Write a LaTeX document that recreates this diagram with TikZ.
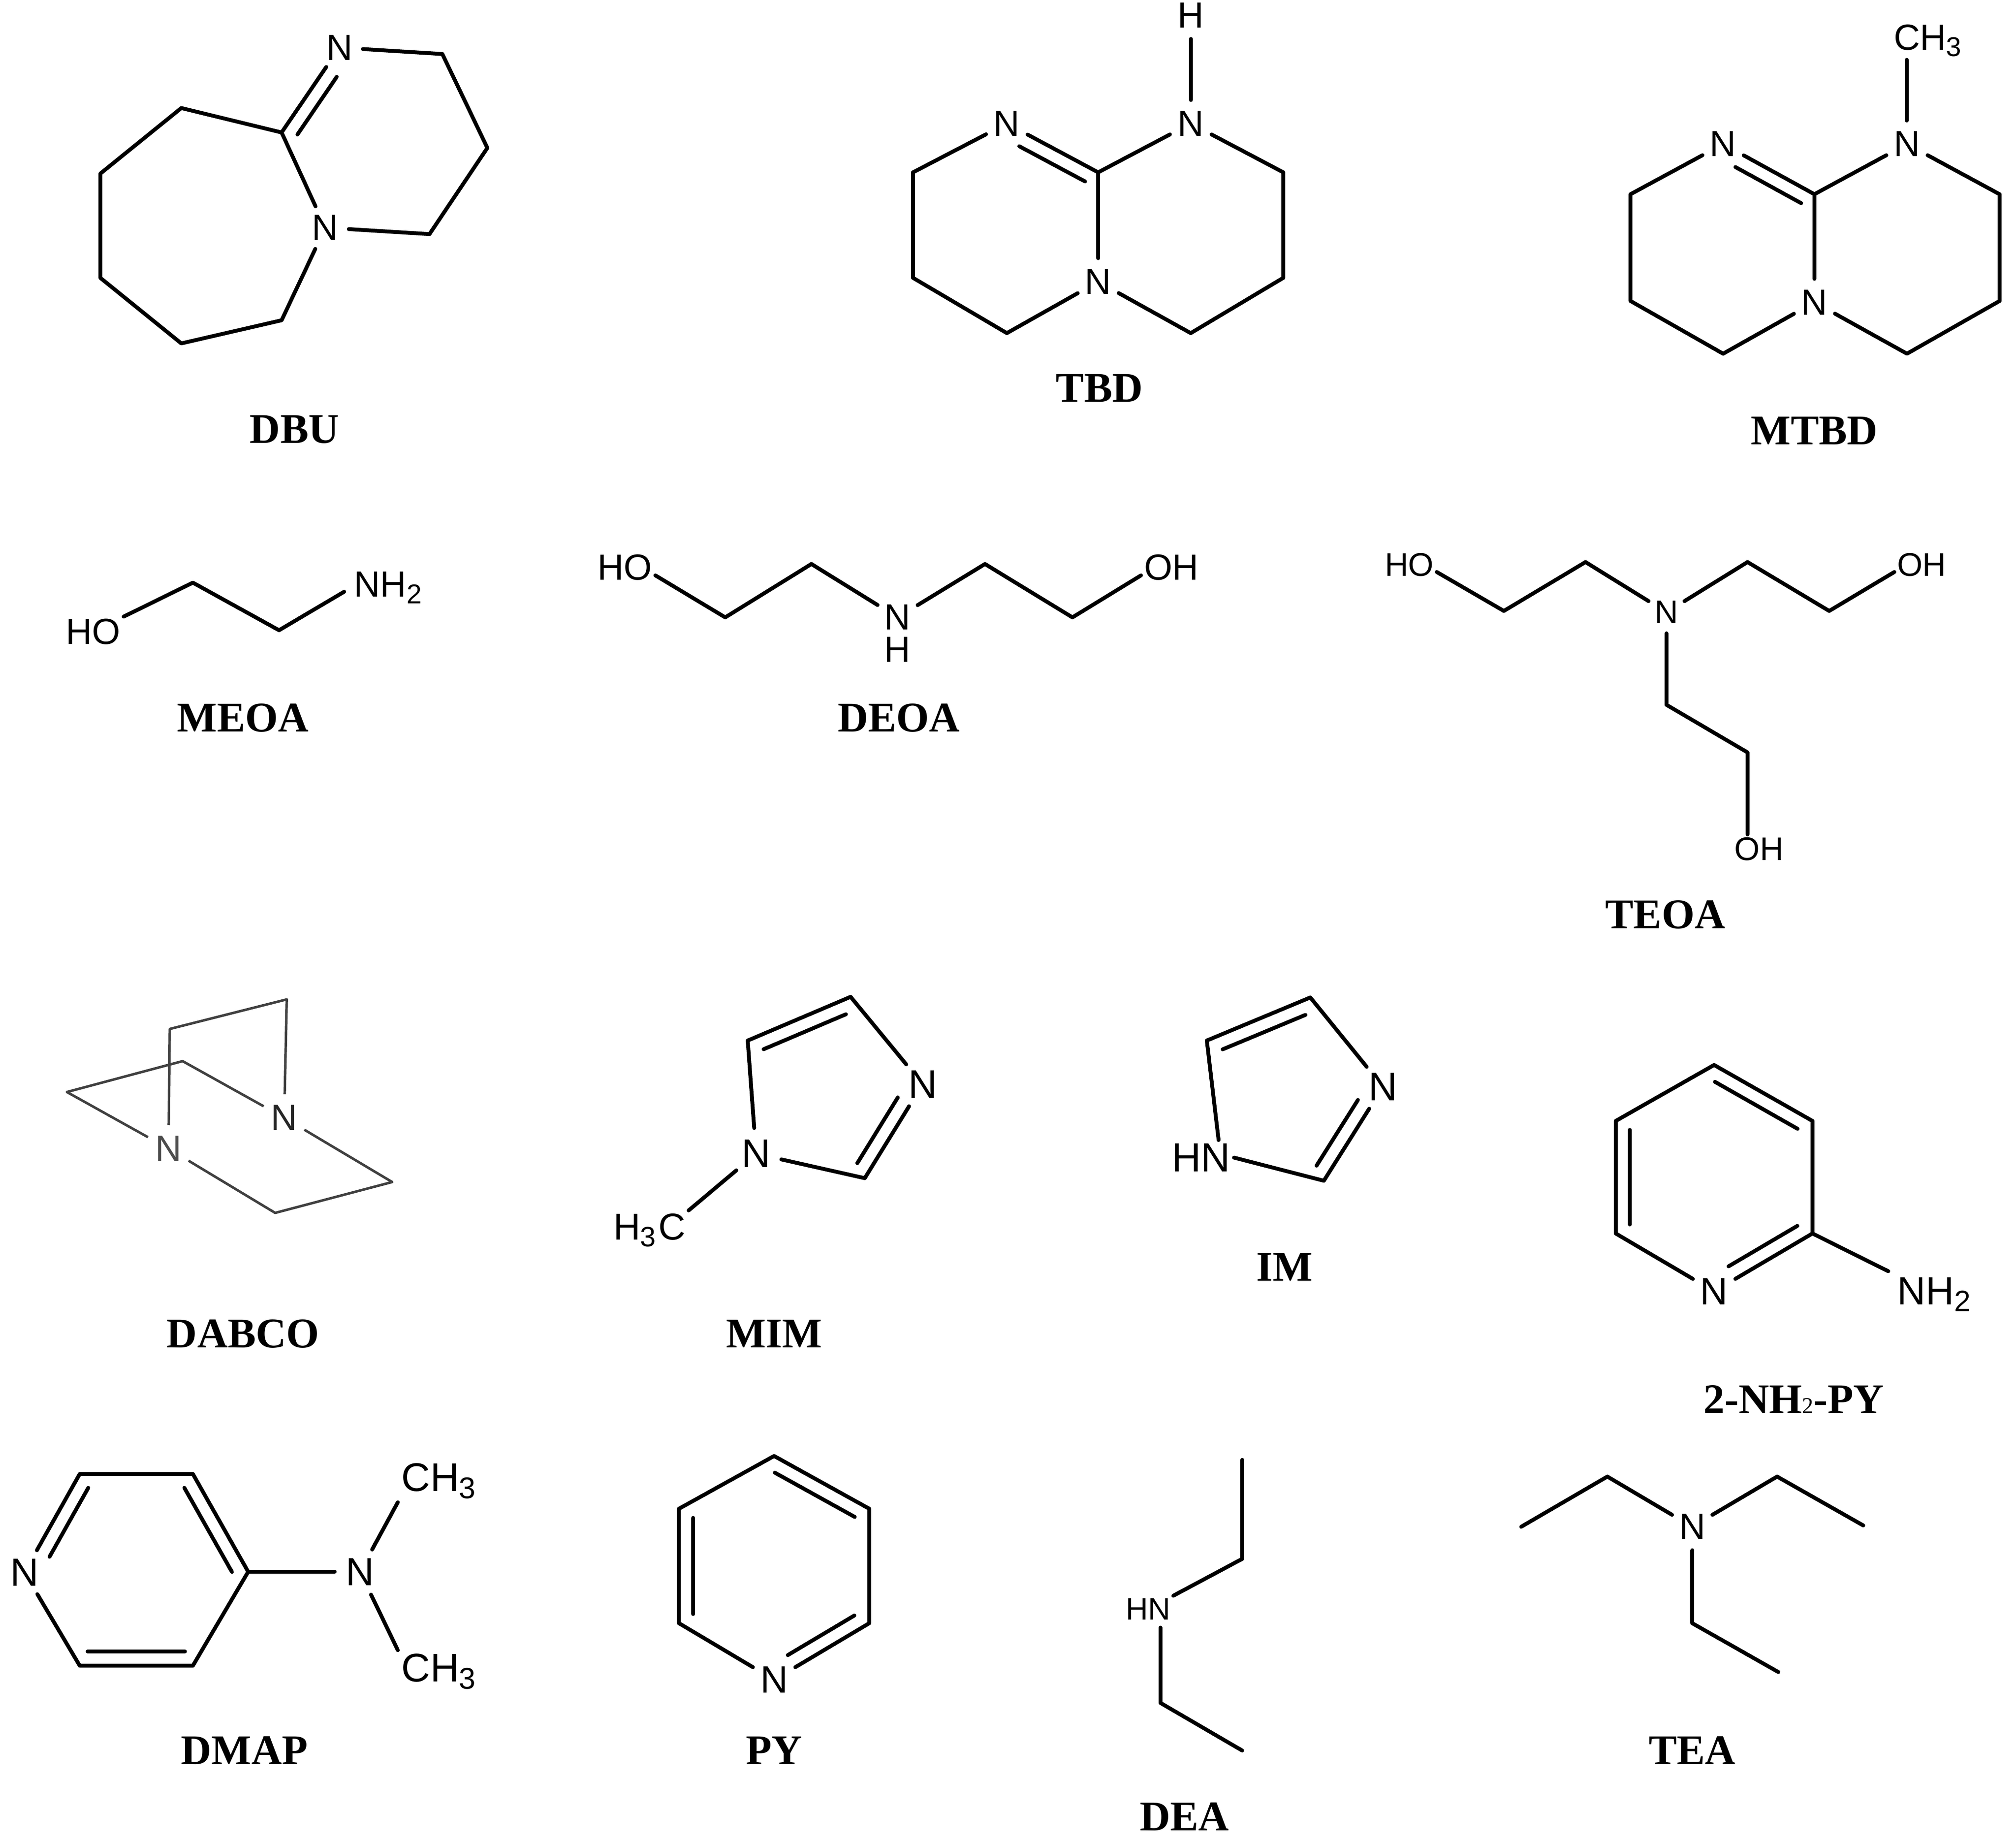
\documentclass[tikz,border=0pt]{standalone}
\usepackage{fontspec}
\setmainfont{Liberation Serif}
\newfontfamily\atomfont{Liberation Sans}
\usepackage{tikz}
\usetikzlibrary{positioning, calc}
\tikzset{
    atom/.style={
        circle,
        inner sep=0.7pt,
        font=\atomfont\fontsize{8}{9}\selectfont,
    },
    atomgroup/.style={
        inner sep=0.5pt,
        font=\atomfont\fontsize{8}{9}\selectfont,
    },
    molname/.style={
        inner sep=0pt,
        font=\bfseries\fontsize{9.3}{11}\selectfont,
    },
    bond/.style={
        line width=0.85pt,
        line cap=round,
        line join=round,
    },
    thinbond/.style={
        line width=0.55pt,
        draw=black!75,
        line join=round,
    },
}
\newcommand{\dbond}[4]{\draw[bond] ($(#1)!#3!(#2)!0.11cm!90:(#2)$) -- ($(#2)!#4!(#1)!0.11cm!-90:(#1)$);}

\begin{document}
\begin{tikzpicture}[x=0.00995cm,y=-0.00995cm]
      \useasboundingbox (0,0) rectangle (1567.8,1431.2);

      \node [atom] (DBUa) at (264,37) {N};
      \node [atom] (DBUb) at (253,177) {N};
      \coordinate (DBUc) at (344,42);
      \coordinate (DBUd) at (379,115);
      \coordinate (DBUe) at (334,182);
      \coordinate (DBUf) at (219,103);
      \coordinate (DBUg) at (141,84);
      \coordinate (DBUh) at (78,135);
      \coordinate (DBUi) at (78,216);
      \coordinate (DBUj) at (141,267);
      \coordinate (DBUk) at (219,249);
      \draw[bond] (DBUa) -- (DBUc) -- (DBUd) -- (DBUe) -- (DBUb);
      \draw[bond] (DBUa) -- (DBUf) -- (DBUb);
      \draw[bond] (DBUf) -- (DBUg) -- (DBUh) -- (DBUi) -- (DBUj) -- (DBUk) -- (DBUb);
      \dbond{DBUa}{DBUf}{0.25}{0.07}
      \node [molname] (DBU) at (229,334) {DBU};

      \node [atom] (TBDa) at (783,96) {N};
      \node [atom] (TBDb) at (926,96) {N};
      \node [atom] (TBDc) at (926,12) {H};
      \node [atom] (TBDd) at (854,219) {N};
      \coordinate (TBDe) at (854,134);
      \coordinate (TBDf) at (998,134);
      \coordinate (TBDg) at (998,216);
      \coordinate (TBDh) at (926,259);
      \coordinate (TBDi) at (783,259);
      \coordinate (TBDj) at (710,216);
      \coordinate (TBDk) at (710,134);
      \draw[bond] (TBDc) -- (TBDb);
      \draw[bond] (TBDa) -- (TBDe) -- (TBDb);
      \draw[bond] (TBDb) -- (TBDf) -- (TBDg) -- (TBDh) -- (TBDd);
      \draw[bond] (TBDe) -- (TBDd);
      \draw[bond] (TBDd) -- (TBDi) -- (TBDj) -- (TBDk) -- (TBDa);
      \dbond{TBDe}{TBDa}{0.07}{0.21}
      \node [molname] (TBD) at (855,302) {TBD};

      \node [atom] (MTBDa) at (1340,112) {N};
      \node [atom] (MTBDb) at (1483,112) {N};
      \node [atomgroup] (MTBDc) at (1500,31.5) {CH\textsubscript{3}};
      \node [atom] (MTBDd) at (1411,235) {N};
      \coordinate (MTBDe) at (1411,151);
      \coordinate (MTBDf) at (1555,151);
      \coordinate (MTBDg) at (1555,234);
      \coordinate (MTBDh) at (1483,275);
      \coordinate (MTBDi) at (1340,275);
      \coordinate (MTBDj) at (1268,234);
      \coordinate (MTBDk) at (1268,151);
      \draw[bond] (MTBDb |- MTBDc.south) -- (MTBDb);
      \draw[bond] (MTBDa) -- (MTBDe) -- (MTBDb);
      \draw[bond] (MTBDb) -- (MTBDf) -- (MTBDg) -- (MTBDh) -- (MTBDd);
      \draw[bond] (MTBDe) -- (MTBDd);
      \draw[bond] (MTBDd) -- (MTBDi) -- (MTBDj) -- (MTBDk) -- (MTBDa);
      \dbond{MTBDe}{MTBDa}{0.07}{0.21}
      \node [molname] (MTBD) at (1411,335) {MTBD};

      \node [atomgroup] (MEOAa) at (72.5,491) {HO};
      \node [atomgroup] (MEOAb) at (302.5,457) {NH\textsubscript{2}};
      \coordinate (MEOAc) at (150,453);
      \coordinate (MEOAd) at (217,490);
      \draw[bond] (MEOAa) -- (MEOAc) -- (MEOAd);
      \draw[bond, shorten >=0.06cm] (MEOAd) -- (MEOAb.west);
      \node [molname] (MEOA) at (189,558) {MEOA};

      \node [atomgroup] (DEOAa) at (486,441) {HO};
      \node [atomgroup] (DEOAb) at (911,441) {OH};
      \node [atom] (DEOAc) at (698,480) {N};
      \node [atom] (DEOAd) at (698,505) {H};
      \coordinate (DEOAe) at (564,480);
      \coordinate (DEOAf) at (631,438.5);
      \coordinate (DEOAg) at (766,438.5);
      \coordinate (DEOAh) at (834,480);
      \draw[bond] (DEOAa.-15) -- (DEOAe) -- (DEOAf) -- (DEOAc);
      \draw[bond] (DEOAc) -- (DEOAg) -- (DEOAh) -- (DEOAb.195);
      \node [molname] (DEOA) at (699,558) {DEOA};

      \node [atomgroup, scale=0.9] (TEOAa) at (1096,439) {HO};
      \node [atomgroup, scale=0.9] (TEOAb) at (1494.5,439) {OH};
      \node [atomgroup, scale=0.9] (TEOAc) at (1368,660) {OH};
      \node [atom, scale=0.9] (TEOAd) at (1296,476) {N};
      \coordinate (TEOAe) at (1169.5,475);
      \coordinate (TEOAf) at (1233,437);
      \coordinate (TEOAg) at (1359,437);
      \coordinate (TEOAh) at (1422.5,475);
      \coordinate (TEOAi) at (1296,548);
      \coordinate (TEOAj) at (1359,585);
      \draw[bond] (TEOAa.-15) -- (TEOAe) -- (TEOAf) -- (TEOAd);
      \draw[bond] (TEOAd) -- (TEOAg) -- (TEOAh) -- (TEOAb.195);
      \draw[bond] (TEOAd) -- (TEOAi) -- (TEOAj) -- (TEOAj |- TEOAc.north);
      \node [molname] (TEOA) at (1295,711) {TEOA};

      \node [atom, text=black!85] (DABCOa) at (221,869) {N};
      \node [atom, text=black!70] (DABCOb) at (131,893) {N};
      \coordinate (DABCOc) at (223,777);
      \coordinate (DABCOd) at (132,800);
      \coordinate (DABCOe) at (142,825);
      \coordinate (DABCOf) at (52,849);
      \coordinate (DABCOg) at (214,943);
      \coordinate (DABCOh) at (305,919);
      \draw[thinbond] (DABCOa) -- (DABCOc) -- (DABCOd) -- (DABCOb);
      \draw[thinbond] (DABCOa) -- (DABCOe) -- (DABCOf) -- (DABCOb);
      \draw[thinbond] (DABCOa) -- (DABCOh) -- (DABCOg) -- (DABCOb);
      \node [molname] (DABCO) at (189,1037) {DABCO};

      \node [atom, scale=1.1] (MIMa) at (717.5,843) {N};
      \node [atom, scale=1.1] (MIMb) at (588,897) {N};
      \node [atomgroup, scale=1.03] (MIMc) at (505,956.5) {H\textsubscript{3}C};
      \coordinate (MIMd) at (672.5,916);
      \coordinate (MIMe) at (581.5,809);
      \coordinate (MIMf) at (661.5,775);
      \draw[bond] (MIMa) -- (MIMd) -- (MIMb) -- (MIMe) -- (MIMf) -- (MIMa);
      \draw[bond] (MIMb) -- (MIMc.north east);
      \dbond{MIMd}{MIMa}{0.08}{0.22}
      \dbond{MIMf}{MIMe}{0.1}{0.1}
      \node [molname] (MIM) at (602,1037) {MIM};

      \node [atom, scale=1.1] (IMa) at (1075.5,845) {N};
      \node [atomgroup, scale=1.12] (IMb) at (934,900) {HN};
      \coordinate (IMc) at (1029.5,918);
      \coordinate (IMd) at (938.5,809);
      \coordinate (IMe) at (1019,775.5);
      \draw[bond] (IMa) -- (IMc) -- (IMb.east);
      \draw[bond] (IMb.45) -- (IMd) -- (IMe) -- (IMa);
      \dbond{IMc}{IMa}{0.08}{0.22}
      \dbond{IMe}{IMd}{0.1}{0.1}
      \node [molname] (IM) at (999,985) {IM};

      \node [atom, scale=1.05] (PYAa) at (1333,1004) {N};
      \node [atomgroup, scale=1.08] (PYAb) at (1505,1006.5) {NH\textsubscript{2}};
      \coordinate (PYAc) at (1409.5,959);
      \coordinate (PYAd) at (1409.5,871.5);
      \coordinate (PYAe) at (1333,828);
      \coordinate (PYAf) at (1256.5,871.5);
      \coordinate (PYAg) at (1256.5,959);
      \draw[bond] (PYAa) -- (PYAc) -- (PYAd) -- (PYAe) -- (PYAf) -- (PYAg) -- (PYAa);
      \draw[bond, shorten >=0.05cm] (PYAc) -- (PYAb.north west);
      \dbond{PYAa}{PYAc}{0.22}{0.08}
      \dbond{PYAd}{PYAe}{0.08}{0.08}
      \dbond{PYAf}{PYAg}{0.08}{0.08}
      \node [molname] (PYA) at (1395,1088) {2-NH{\fontsize{5}{6}\selectfont\mdseries 2}-PY};

      \node [atom, scale=1.08] (DMAPa) at (19,1222.5) {N};
      \node [atom, scale=1.08] (DMAPb) at (280,1222) {N};
      \node [atomgroup, scale=1.1] (DMAPc) at (342,1151.5) {CH\textsubscript{3}};
      \node [atomgroup, scale=1.1] (DMAPd) at (342,1299.5) {CH\textsubscript{3}};
      \coordinate (DMAPe) at (62,1146);
      \coordinate (DMAPf) at (150,1146);
      \coordinate (DMAPg) at (193,1222);
      \coordinate (DMAPh) at (150,1295);
      \coordinate (DMAPi) at (62,1295);
      \draw[bond] (DMAPa) -- (DMAPe) -- (DMAPf) -- (DMAPg) -- (DMAPh) -- (DMAPi) -- (DMAPa);
      \draw[bond] (DMAPg) -- (DMAPb);
      \draw[bond] (DMAPb) -- (DMAPc.south west);
      \draw[bond] (DMAPb) -- (DMAPd.north west);
      \dbond{DMAPe}{DMAPa}{0.07}{0.23}
      \dbond{DMAPi}{DMAPh}{0.07}{0.07}
      \dbond{DMAPg}{DMAPf}{0.07}{0.07}
      \node [molname] (DMAP) at (190,1361) {DMAP};

      \node [atom, scale=1.05] (PYa) at (602,1306) {N};
      \coordinate (PYb) at (676,1262);
      \coordinate (PYc) at (676,1173);
      \coordinate (PYd) at (602,1132);
      \coordinate (PYe) at (528,1173);
      \coordinate (PYf) at (528,1262);
      \draw[bond] (PYa) -- (PYb) -- (PYc) -- (PYd) -- (PYe) -- (PYf) -- (PYa);
      \dbond{PYa}{PYb}{0.22}{0.08}
      \dbond{PYc}{PYd}{0.08}{0.08}
      \dbond{PYe}{PYf}{0.08}{0.08}
      \node [molname] (PY) at (602,1361) {PY};

      \node [atomgroup, scale=0.85] (DEAa) at (893,1251) {HN};
      \coordinate (DEAb) at (966,1135);
      \coordinate (DEAc) at (966,1212);
      \coordinate (DEAd) at (902.5,1324);
      \coordinate (DEAe) at (966,1361);
      \draw[bond] (DEAb) -- (DEAc) -- (DEAa.north east);
      \draw[bond, shorten >=0.04cm] (DEAe) -- (DEAd) -- (DEAd |- DEAa.south);
      \node [molname] (DEA) at (921,1412.5) {DEA};

      \node [atom] (TEAa) at (1316,1187) {N};
      \coordinate (TEAb) at (1250,1148);
      \coordinate (TEAc) at (1183,1187);
      \coordinate (TEAd) at (1382,1148);
      \coordinate (TEAe) at (1449,1186);
      \coordinate (TEAf) at (1316,1262);
      \coordinate (TEAg) at (1383,1300);
      \draw[bond] (TEAa) -- (TEAb) -- (TEAc);
      \draw[bond] (TEAa) -- (TEAd) -- (TEAe);
      \draw[bond] (TEAa) -- (TEAf) -- (TEAg);
      \node [molname] (TEA) at (1316,1361) {TEA};
    \end{tikzpicture}
\end{document}
